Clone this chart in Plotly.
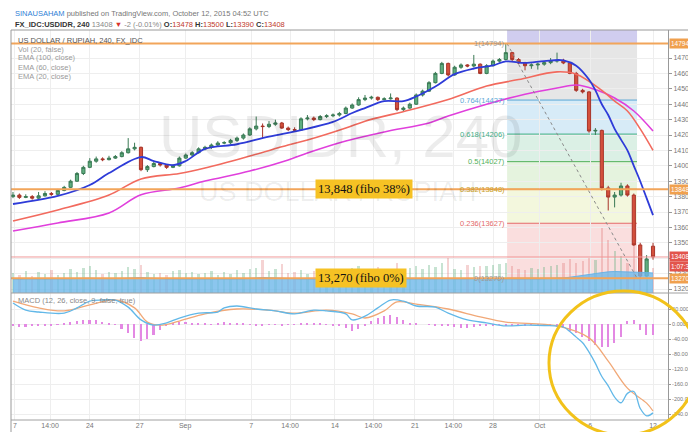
import plotly.graph_objects as go

# ---------------- data ----------------
bars = list(range(101))
opens = [13800,13810,13795,13800,13790,13805,13820,13815,13840,13860,
         13900,13950,13990,14030,14045,14040,14050,14060,14085,14110,
         14120,13975,13995,14015,14005,13990,14000,14050,14070,14085,
         14110,14120,14135,14148,14150,14165,14180,14200,14240,14258,
         14255,14270,14278,14245,14235,14232,14305,14310,14300,14320,
         14325,14330,14340,14375,14395,14430,14440,14445,14430,14435,
         14440,14365,14375,14400,14460,14485,14540,14600,14665,14590,
         14640,14655,14648,14660,14600,14650,14680,14690,14735,14690,
         14668,14650,14655,14660,14670,14680,14685,14668,14600,14490,
         14480,14226,14230,13856,13797,13810,13869,13810,13486,13284,
         13478]
highs = [13830,13820,13815,13810,13830,13835,13830,13850,13870,13910,
         13960,14000,14050,14060,14055,14065,14070,14095,14180,14150,
         14125,14005,14025,14020,14010,14010,14060,14080,14095,14120,
         14130,14145,14160,14160,14175,14190,14210,14250,14320,14275,
         14290,14300,14285,14255,14250,14315,14330,14320,14330,14335,
         14340,14350,14385,14405,14445,14460,14455,14450,14445,14470,
         14445,14385,14410,14470,14495,14550,14610,14675,14670,14650,
         14665,14660,14720,14665,14660,14690,14700,14794,14740,14700,
         14675,14665,14670,14680,14700,14735,14695,14675,14610,14500,
         14485,14245,14235,13870,13830,13890,13880,13820,13500,13420,
         13500]
lows = [13790,13785,13790,13780,13785,13800,13805,13810,13835,13855,
        13895,13940,13985,14020,14030,14035,14045,14055,14080,14100,
        13965,13960,13990,13995,13980,13985,13995,14045,14060,14080,
        14100,14110,14125,14140,14140,14155,14170,14195,14230,14180,
        14245,14260,14240,14225,14220,14228,14295,14290,14295,14310,
        14315,14320,14335,14370,14390,14420,14430,14420,14425,14430,
        14355,14350,14370,14395,14450,14480,14535,14595,14580,14585,
        14630,14640,14640,14595,14595,14645,14670,14685,14680,14660,
        14620,14630,14625,14650,14660,14670,14660,14595,14480,14470,
        14215,14200,13840,13710,13730,13800,13800,13480,13270,13280,
        13390]
closes = [13810,13795,13800,13790,13805,13820,13815,13840,13860,13900,
          13950,13990,14030,14045,14040,14050,14060,14085,14110,14120,
          13975,13995,14015,14005,13990,14000,14050,14070,14085,14110,
          14120,14135,14148,14150,14165,14180,14200,14240,14258,14255,
          14270,14278,14245,14235,14232,14305,14310,14300,14320,14325,
          14330,14340,14375,14395,14430,14440,14445,14430,14435,14440,
          14365,14375,14400,14460,14485,14540,14600,14665,14590,14640,
          14655,14648,14660,14600,14650,14680,14690,14735,14690,14668,
          14650,14655,14660,14670,14680,14685,14668,14600,14490,14480,
          14226,14230,13856,13797,13810,13869,13810,13486,13284,13395,
          13408]
volumes = [200,180,220,170,210,190,230,180,200,240,
           210,250,270,230,190,210,200,220,260,240,
           280,210,190,200,180,220,230,200,210,190,
           200,220,180,210,190,230,200,240,250,330,
           220,240,290,200,210,230,190,220,210,200,
           230,240,210,250,270,230,220,260,240,230,
           300,220,250,270,240,280,260,300,350,240,
           230,280,260,270,270,280,290,300,270,240,
           230,250,240,260,270,280,300,340,300,320,
           350,330,650,530,420,370,300,470,380,300,
           250]
vol_ma = [140,135,138,142,140,136,138,140,145,148,
          150,152,148,145,142,140,143,146,150,152,
          155,150,146,142,140,138,140,142,140,138,
          136,138,140,142,140,138,140,145,150,155,
          152,148,150,146,142,140,138,140,142,140,
          138,140,142,145,148,146,144,146,148,146,
          140,142,140,138,140,142,140,143,145,142,
          140,142,145,143,140,138,140,142,140,138,
          136,138,140,142,140,145,150,158,165,175,
          185,195,205,212,215,214,212,210,208,205,
          200]

ema20_idx = [0,7,12,15,20,22,25,27,30,35,40,45,50,53,55,58,61,63,66,69,72,75,77,80,83,86,88,90,91,92,93,94,95,96,97,98,99,100]
ema20 = [13752,13804,13875,13953,14057,14031,14005,14031,14110,14140,14190,14232,14285,14343,14375,14420,14420,14450,14515,14595,14632,14652,14678,14668,14680,14685,14650,14560,14490,14400,14330,14240,14170,14100,14000,13900,13790,13680]
ema60_idx = [0,7,15,20,26,30,37,43,46,52,55,62,68,74,79,85,88,92,94,96,98,100]
ema60 = [13642,13713,13810,13915,13950,13986,14064,14135,14167,14245,14290,14362,14430,14518,14560,14610,14595,14490,14420,14356,14240,14100]
ema100_idx = [0,7,15,20,26,30,37,43,46,52,58,65,68,74,80,85,88,91,94,97,100]
ema100 = [13577,13629,13694,13812,13856,13901,13966,14038,14083,14161,14220,14278,14323,14400,14465,14505,14525,14495,14440,14356,14226]

macd_idx = [0,2,4,8,10,12,14,16,18,20,22,24,26,29,32,33,35,38,41,44,47,49,52,53,55,57,59,61,63,66,68,71,74,77,80,83,86,87,88,89,90,91,92,93,94,95,96,97,98,99,100]
macd = [56,37,32,29,43,61,64,64,45,11,-3,3,16,29,32,43,48,40,35,27,37,35,27,11,21,43,64,61,48,45,29,11,3,-5,-3,-4,-8,-20,-35,-50,-75,-105,-140,-165,-195,-210,-185,-180,-225,-245,-237]
signal_idx = [0,4,8,12,16,19,21,23,26,30,35,40,44,49,53,55,58,60,63,68,73,77,85,90,93,96,99,100]
signal = [61,43,35,51,64,43,5,-3,8,27,40,37,29,37,27,16,35,59,53,40,19,5,-5,-37,-99,-171,-211,-232]
hist = [-6,-8,-7,-5,-4,-3,-3,-2,2,5,
        8,10,12,10,6,3,-2,-12,-25,-38,
        -45,-40,-30,-15,-5,3,5,6,4,3,
        2,-2,4,5,4,3,2,-2,-3,-3,
        -2,-2,-3,-2,-1,3,3,2,1,-1,
        -3,-5,-10,-18,-12,-3,8,15,22,24,
        18,10,4,2,0,-1,-3,-4,-6,-8,
        -10,-11,-9,-6,-4,-3,-2,-4,-6,-5,
        -3,-2,-2,-3,-5,-8,-10,-18,-25,-35,
        -45,-55,-60,-60,-50,-35,8,12,-15,-30,
        -28]

tick_pos = [0.3, 5.8, 12, 19.8, 26.9, 37.2, 43.3, 50.3, 56.3, 62.8, 68.8, 75, 82.3, 90.2, 100]
tick_text = ["7", "14:00", "24", "27", "Sep", "7", "14:00", "14", "14:00", "21", "14:00", "28", "Oct", "6", "12"]
price_ticks = list(range(13200, 14800, 100))
macd_ticks = [40, 0, -40, -80, -120, -160, -200, -240]
macd_tick_text = ["40.0000", "0.0000", "-40.0000", "-80.0000", "-120.0000", "-160.0000", "-200.0000", "-240.0000"]

fib_ratios = ["1", "0.764", "0.618", "0.5", "0.382", "0.236", "0"]
fib_prices = [14794, 14427, 14206, 14027, 13848, 13627, 13270]
fib_top = 15210
fib_start, fib_end = 77.2, 97.5
key_levels = [14794, 13848, 13270]
last_price = 13408
countdown = "1:07:35"

# ---------------- styling ----------------
W, H = 696, 432
ML, MR, MT, MB = 3, 36, 22, 20
PW, PH = W - ML - MR, H - MT - MB
def px(xp):
    return (xp - ML) / PW
def py(yp):
    return (H - MB - yp) / PH

FONT = "Liberation Sans, Arial, sans-serif"
split = py(285)
fib_line_cols = ["#9a9a9a", "#5aa7d6", "#3fae86", "#52b05a", "#c9a227", "#e36a6a", "#9a9a9a"]
fib_fill_cols = ["rgba(200,196,236,0.85)", "rgba(222,222,222,0.75)", "rgba(205,230,245,0.8)",
                 "rgba(210,236,222,0.8)", "rgba(222,240,214,0.8)", "rgba(240,245,212,0.8)",
                 "rgba(249,214,214,0.8)"]

fig = go.Figure()

# volume
vcols = ["rgba(95,174,126,0.35)" if c >= o else "rgba(222,110,110,0.30)" for o, c in zip(opens, closes)]
fig.add_trace(go.Scatter(x=bars, y=vol_ma, yaxis="y3", mode="lines", fill="tozeroy",
                         line=dict(color="rgba(100,176,230,0.9)", width=1),
                         fillcolor="rgba(110,184,234,0.8)", hoverinfo="skip"))
fig.add_trace(go.Bar(x=bars, y=volumes, yaxis="y3", marker=dict(color=vcols, line=dict(width=0)),
                     width=0.35, hoverinfo="skip"))

# candles
fig.add_trace(go.Candlestick(x=bars, open=opens, high=highs, low=lows, close=closes,
                             increasing=dict(line=dict(color="#3b7a55", width=1), fillcolor="#5fae80"),
                             decreasing=dict(line=dict(color="#a8352a", width=1), fillcolor="#d4503c"),
                             whiskerwidth=0, xaxis="x", yaxis="y"))

# EMAs
fig.add_trace(go.Scatter(x=ema100_idx, y=ema100, mode="lines", line=dict(color="#e03fdc", width=1.6, shape="spline")))
fig.add_trace(go.Scatter(x=ema60_idx, y=ema60, mode="lines", line=dict(color="#f26a5e", width=1.6, shape="spline")))
fig.add_trace(go.Scatter(x=ema20_idx, y=ema20, mode="lines", line=dict(color="#2e3bd8", width=1.8, shape="spline")))

# MACD
fig.add_trace(go.Bar(x=bars, y=hist, xaxis="x2", yaxis="y2", width=0.25,
                     marker=dict(color="#e389e3", line=dict(width=0))))
fig.add_trace(go.Scatter(x=signal_idx, y=signal, xaxis="x2", yaxis="y2", mode="lines",
                         line=dict(color="#f1a877", width=1.3, shape="spline")))
fig.add_trace(go.Scatter(x=macd_idx, y=macd, xaxis="x2", yaxis="y2", mode="lines",
                         line=dict(color="#62b8e8", width=1.3, shape="spline")))

shapes = []
# fib zones
levels_hi = [fib_top] + fib_prices[:-1]
for i, (hi, lo) in enumerate(zip(levels_hi, fib_prices)):
    shapes.append(dict(type="rect", xref="x", yref="y", x0=fib_start, x1=fib_end, y0=lo, y1=hi,
                       fillcolor=fib_fill_cols[i], line=dict(width=0), layer="below"))
for p, c in zip(fib_prices, fib_line_cols):
    shapes.append(dict(type="line", xref="x", yref="y", x0=fib_start, x1=fib_end, y0=p, y1=p,
                       line=dict(color=c, width=1), layer="below"))
shapes.append(dict(type="line", xref="x", yref="y", x0=fib_start, x1=fib_end,
                   y0=fib_prices[0], y1=fib_prices[-1], line=dict(color="#8a8a8a", width=1, dash="dot")))
# horizontal key levels
for lv in key_levels:
    shapes.append(dict(type="line", xref="x domain", yref="y", x0=0, x1=1, y0=lv, y1=lv,
                       line=dict(color="#f2a55a", width=2)))
shapes.append(dict(type="line", xref="x domain", yref="y", x0=0, x1=1, y0=last_price, y1=last_price,
                   line=dict(color="#f09a9a", width=1)))
# frames
shapes.append(dict(type="rect", xref="paper", yref="paper", x0=0, x1=px(694), y0=py(428), y1=1,
                   line=dict(color="#9a9a9a", width=1)))
shapes.append(dict(type="line", xref="paper", yref="paper", x0=0, x1=px(694), y0=split, y1=split,
                   line=dict(color="#a0a0a0", width=1)))
shapes.append(dict(type="line", xref="paper", yref="paper", x0=0, x1=1, y0=0, y1=0,
                   line=dict(color="#a0a0a0", width=1)))
# ellipse
shapes.append(dict(type="circle", xref="paper", yref="paper", x0=px(541), x1=px(690), y0=py(427), y1=py(283),
                   line=dict(color="#f2c21a", width=3)))

ann = []
def txt(x, y, t, size=7.5, color="#666", **kw):
    d = dict(xref="paper", yref="paper", x=px(x), y=py(y), text=t, showarrow=False,
             xanchor="left", yanchor="middle", font=dict(family=FONT, size=size, color=color))
    d.update(kw)
    ann.append(d)

txt(5, 6, "<span style='color:#2f7fd6'>SINAUSAHAM</span> published on TradingView.com, October 12, 2015 04:52 UTC",
    size=7.5, color="#777")
txt(5, 16, "<b>FX_IDC:USDIDR, 240</b> <span style='color:#888'>13408</span> "
    "<span style='color:#d9342b'>▼</span> <span style='color:#888'>-2 (-0.01%)</span> "
    "<b>O:</b><span style='color:#c0392b'>13478</span> <b>H:</b><span style='color:#c0392b'>13500</span> "
    "<b>L:</b><span style='color:#c0392b'>13390</span> <b>C:</b><span style='color:#c0392b'>13408</span>",
    size=7.5, color="#333")
txt(8, 32, "US DOLLAR / RUPIAH, 240, FX_IDC", size=7.5, color="#555")
txt(8, 41, "Vol (20, false)", size=7.5, color="#999")
txt(8, 50, "EMA (100, close)", size=7.5, color="#999")
txt(8, 59, "EMA (60, close)", size=7.5, color="#999")
txt(8, 68, "EMA (20, close)", size=7.5, color="#999")
txt(8, 292, "MACD (12, 26, close, 9, false, true)", size=7.5, color="#888")
# watermark
txt(332, 128, "USDIDR, 240", size=60, color="rgba(0,0,0,0.075)", xanchor="center")
txt(330, 184, "US DOLLAR / RUPIAH", size=27, color="rgba(0,0,0,0.075)", xanchor="center")

# fib labels
for r, p, c in zip(fib_ratios, fib_prices, fib_line_cols):
    ann.append(dict(xref="x", yref="y", x=fib_start, y=p, text=f"{r}({p})", showarrow=False,
                    xanchor="right", yanchor="middle", font=dict(family=FONT, size=7.5, color=c)))

# yellow callouts
for lv, t in zip([13848, 13270], ["13,848 (fibo 38%)", "13,270 (fibo 0%)"]):
    ann.append(dict(xref="paper", yref="y", x=px(307), y=lv, text=t, showarrow=False,
                    xanchor="left", yanchor="middle", bgcolor="#f6c224", borderpad=2,
                    font=dict(family="Liberation Serif, DejaVu Serif, serif", size=12.5, color="#111")))

# right axis badges
for lv in key_levels:
    ann.append(dict(xref="paper", yref="y", x=1, y=lv, text=str(lv), showarrow=False, xanchor="left",
                    yanchor="middle", xshift=1, bgcolor="#f0a04e", borderpad=1,
                    font=dict(family=FONT, size=6.5, color="white")))
ann.append(dict(xref="paper", yref="y", x=1, y=last_price, text=str(last_price), showarrow=False,
                xanchor="left", yanchor="middle", xshift=1, bgcolor="#e2544c", borderpad=1,
                font=dict(family=FONT, size=6.5, color="white")))
ann.append(dict(xref="paper", yref="y", x=1, y=last_price, text=countdown, showarrow=False,
                xanchor="left", yanchor="middle", xshift=1, yshift=-10, bgcolor="#e2544c", borderpad=1,
                font=dict(family=FONT, size=6.5, color="white")))

grid = "#eeeeee"
fig.update_layout(
    width=W, height=H, margin=dict(l=ML, r=MR, t=MT, b=MB),
    paper_bgcolor="white", plot_bgcolor="white", showlegend=False, bargap=0,
    font=dict(family=FONT, size=7, color="#666"),
    shapes=shapes, annotations=ann,
    xaxis=dict(domain=[0, 1], anchor="y", range=[-0.31, 102.34], tickvals=tick_pos, showticklabels=False,
               showgrid=True, gridcolor=grid, zeroline=False, rangeslider=dict(visible=False), ticks=""),
    xaxis2=dict(domain=[0, 1], anchor="y2", matches="x", range=[-0.31, 102.34], tickvals=tick_pos,
                ticktext=tick_text, showgrid=True, gridcolor=grid, zeroline=False, ticks="",
                tickfont=dict(size=7, color="#777")),
    yaxis=dict(domain=[split, 1], side="right", range=[13174, 14882], tickvals=price_ticks,
               tickformat="d", showgrid=True, gridcolor=grid, zeroline=False, ticks="outside",
               ticklen=3, tickcolor="#999", showline=True, linecolor="#999",
               tickfont=dict(size=7, color="#777")),
    yaxis3=dict(overlaying="y", range=[0, 2630], visible=False),
    yaxis2=dict(domain=[0, split], side="right", range=[-256, 82.7], tickvals=macd_ticks,
                ticktext=macd_tick_text, showgrid=True, gridcolor=grid, zeroline=False,
                ticks="outside", ticklen=2, tickcolor="#999", showline=True, linecolor="#999",
                tickfont=dict(size=5.5, color="#777")),
)

fig.write_html("out.html")
